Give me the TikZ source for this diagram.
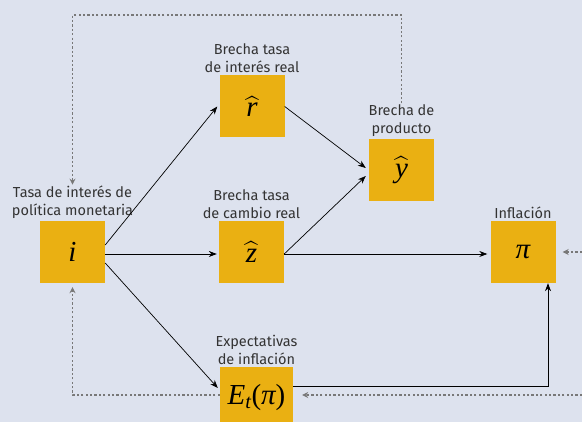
\documentclass[tikz,border=0pt]{standalone}
\usepackage{fontspec}
\setmainfont{Fira Sans}
\newfontfamily\serifvar{Liberation Serif}
\usepackage{amsmath}
\usetikzlibrary{positioning,arrows.meta,calc}

\definecolor{fondo}{RGB}{221,226,238}
\definecolor{caja}{RGB}{234,176,18}
\definecolor{texto}{RGB}{51,51,51}
\definecolor{retro}{RGB}{120,120,120}

\newcommand{\var}[1]{\text{\serifvar\itshape #1}}
\newcommand{\recto}[1]{\text{\serifvar #1}}

\begin{document}
\begin{tikzpicture}[
    x=1pt, y=-1pt,
    box/.style={fill=caja, minimum width=65pt, minimum height=62pt, inner sep=0pt,
        font=\fontsize{29}{31}\selectfont},
    lbl/.style={align=center, text=texto, font=\fontsize{14.5}{18}\selectfont, inner sep=1pt},
    arrow/.style={-{Stealth[length=8pt, width=6pt]}, line width=0.7pt},
    fb/.style={-{Stealth[length=6pt, width=6pt]}, retro, line width=1.3pt, dash pattern=on 2.2pt off 2.2pt}
]
\fill[fondo] (0,0) rectangle (582,422);
\useasboundingbox (0,0) rectangle (582,422);

% cajas
\node[box] (tasa) at (72.5,252) {$\var{i}$};
\node[box] (rreal) at (252,106.5) {$\widehat{\var{r}}$};
\node[box] (prod) at (401.5,170) {$\widehat{\var{y}}$};
\node[box] (zreal) at (251.5,252) {$\widehat{\var{z}}$};
\node[box] (infl) at (523,252) {$\var{π}$};
\node[box, minimum width=73pt] (expect) at (256.5,398) {$\var{E}_{\var{t}}\recto{(}\var{π}\recto{)}$};

% etiquetas
\node[lbl, above=1pt of tasa] (lbltasa) {Tasa de interés de\\política monetaria};
\node[lbl, above=1pt of rreal] (lblrreal) {Brecha tasa\\de interés real};
\node[lbl, above=1pt of prod] (lblprod) {Brecha de\\producto};
\node[lbl, above=1pt of zreal] (lblzreal) {Brecha tasa\\de cambio real};
\node[lbl, above=1pt of infl] (lblinfl) {Inflación};
\node[lbl, above=1pt of expect] (lblexpect) {Expectativas\\de inflación};

\draw[arrow] ([yshift=7pt]tasa.east) -- ([xshift=-2pt]rreal.west);
\draw[arrow] ([yshift=-2pt]tasa.east) -- ([xshift=-2pt,yshift=-2pt]zreal.west);
\draw[arrow] ([yshift=-11pt]tasa.east) -- ([xshift=-2pt,yshift=10pt]expect.west);
\draw[arrow] (rreal.east) -- ([xshift=-3pt,yshift=2pt]prod.west);
\draw[arrow] ([yshift=-2pt]zreal.east) -- ([xshift=-3pt,yshift=-6pt]prod.west);
\draw[arrow] ([yshift=-2pt]zreal.east) -- ([xshift=-3pt,yshift=-2pt]infl.west);
\draw[arrow] ([yshift=12pt]expect.east) -| ([xshift=25pt]infl.south);

% retroalimentacion
\coordinate (arriba) at (0,15);
\coordinate (der1) at (582,252);
\coordinate (der2) at (582,395);
\draw[fb] (lblprod.north) -- (lblprod.north |- arriba) -| (lbltasa.north);
\draw[fb, shorten >=4pt] ([yshift=3pt]expect.west) -| (tasa.south);
\draw[fb, shorten >=9pt] (der2) -- ([yshift=3pt]expect.east);
\draw[fb, shorten >=7pt] (der1) -- (infl.east);

\end{tikzpicture}
\end{document}
